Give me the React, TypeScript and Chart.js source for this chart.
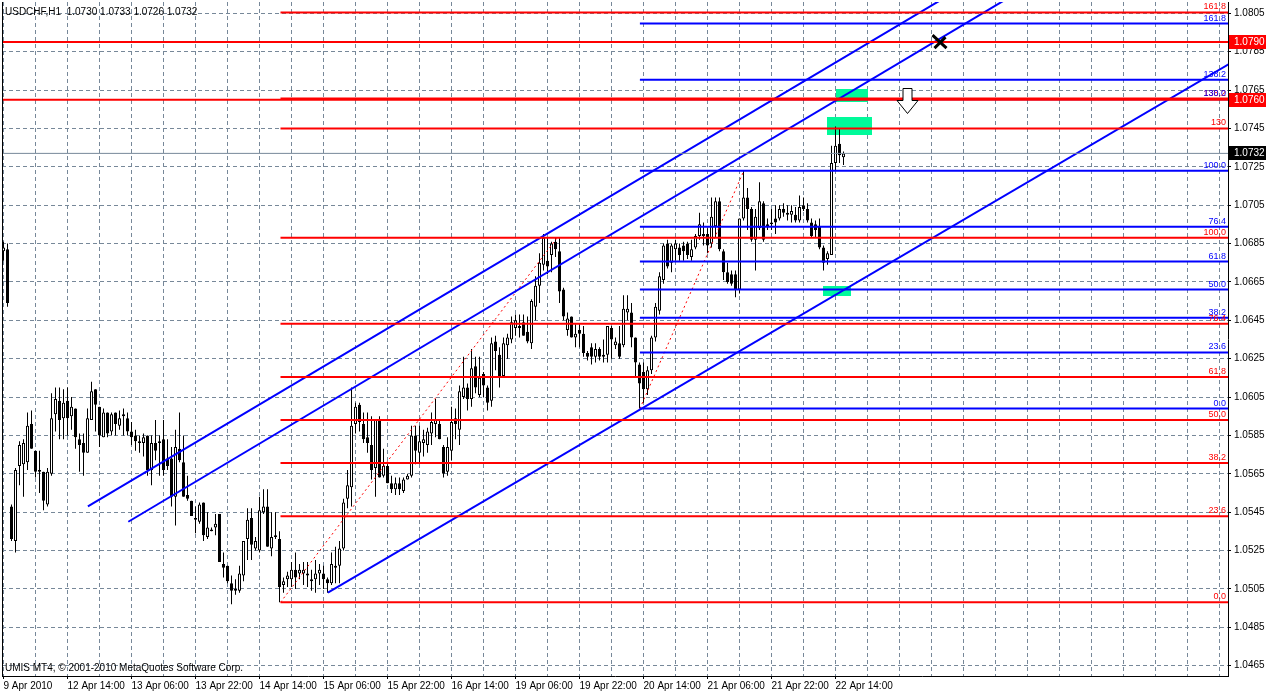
import React, { useEffect, useRef } from 'react';
import { Chart, registerables } from 'chart.js';

Chart.register(...registerables);

const FONT = '"Liberation Sans", Arial, sans-serif';
Chart.defaults.font.family = FONT;
Chart.defaults.font.size = 10;
Chart.defaults.color = '#000000';

// ---------- data: USDCHF H1 candles (bar index 0 = 9 Apr 2010 22:00) ----------
const opens = [
  1.0681,1.0682,1.0548,1.0530,1.0569,1.0570,1.0571,1.0591,1.0577,1.0567,
  1.0566,1.0549,1.0565,1.0596,1.0603,1.0594,1.0603,1.0595,1.0599,1.0583,
  1.0581,1.0576,1.0593,1.0609,1.0600,1.0584,1.0597,1.0587,1.0597,1.0590,
  1.0595,1.0594,1.0587,1.0585,1.0581,1.0581,1.0585,1.0567,1.0581,1.0581,
  1.0583,1.0573,1.0573,1.0553,1.0578,1.0571,1.0554,1.0551,1.0542,1.0540,
  1.0550,1.0532,1.0536,1.0537,1.0544,1.0518,1.0517,1.0508,1.0504,1.0504,
  1.0512,1.0531,1.0542,1.0526,1.0525,1.0545,1.0548,1.0526,1.0533,1.0531,
  1.0507,1.0510,1.0510,1.0515,1.0513,1.0513,1.0513,1.0510,1.0510,1.0513,
  1.0513,1.0510,1.0508,1.0517,1.0517,1.0526,1.0552,1.0558,1.0591,1.0601,
  1.0591,1.0584,1.0580,1.0568,1.0593,1.0564,1.0569,1.0560,1.0557,1.0560,
  1.0556,1.0562,1.0564,1.0585,1.0576,1.0581,1.0580,1.0586,1.0591,1.0591,
  1.0579,1.0566,1.0577,1.0594,1.0588,1.0605,1.0610,1.0604,1.0621,1.0606,
  1.0617,1.0610,1.0603,1.0634,1.0627,1.0616,1.0632,1.0635,1.0641,1.0641,
  1.0644,1.0639,1.0633,1.0652,1.0663,1.0674,1.0676,1.0679,1.0686,1.0681,
  1.0661,1.0640,1.0647,1.0636,1.0640,1.0638,1.0628,1.0631,1.0626,1.0630,
  1.0627,1.0627,1.0641,1.0632,1.0633,1.0632,1.0649,1.0649,1.0636,1.0622,
  1.0618,1.0609,1.0619,1.0636,1.0650,1.0666,1.0685,1.0675,1.0682,1.0683,
  1.0684,1.0685,1.0678,1.0683,1.0689,1.0689,1.0690,1.0685,1.0694,1.0707,
  1.0681,1.0670,1.0669,1.0669,1.0661,1.0698,1.0709,1.0703,1.0687,1.0693,
  1.0706,1.0694,1.0695,1.0698,1.0698,1.0703,1.0700,1.0700,1.0700,1.0697,
  1.0705,1.0703,1.0696,1.0695,1.0694,1.0683,1.0677,1.0679,1.0727,1.0737,
  1.0730,
];
const highs = [
  1.0686,1.0685,1.0549,1.0568,1.0582,1.0583,1.0597,1.0598,1.0577,1.0577,
  1.0566,1.0568,1.0607,1.0610,1.0610,1.0609,1.0610,1.0605,1.0599,1.0586,
  1.0586,1.0599,1.0613,1.0609,1.0600,1.0599,1.0597,1.0597,1.0597,1.0598,
  1.0599,1.0597,1.0592,1.0588,1.0585,1.0586,1.0585,1.0585,1.0593,1.0585,
  1.0593,1.0583,1.0579,1.0588,1.0597,1.0585,1.0564,1.0551,1.0548,1.0550,
  1.0550,1.0545,1.0537,1.0544,1.0544,1.0524,1.0517,1.0512,1.0510,1.0517,
  1.0530,1.0547,1.0547,1.0532,1.0553,1.0557,1.0557,1.0545,1.0545,1.0535,
  1.0511,1.0514,1.0519,1.0524,1.0518,1.0519,1.0519,1.0515,1.0520,1.0518,
  1.0517,1.0511,1.0524,1.0527,1.0530,1.0552,1.0567,1.0610,1.0602,1.0602,
  1.0597,1.0597,1.0595,1.0593,1.0595,1.0578,1.0570,1.0564,1.0563,1.0563,
  1.0563,1.0565,1.0590,1.0590,1.0590,1.0588,1.0589,1.0597,1.0604,1.0593,
  1.0580,1.0584,1.0600,1.0599,1.0611,1.0626,1.0612,1.0630,1.0626,1.0626,
  1.0618,1.0611,1.0636,1.0637,1.0631,1.0636,1.0638,1.0647,1.0648,1.0648,
  1.0648,1.0647,1.0656,1.0668,1.0680,1.0690,1.0688,1.0686,1.0688,1.0688,
  1.0662,1.0649,1.0647,1.0643,1.0643,1.0642,1.0629,1.0633,1.0633,1.0631,
  1.0635,1.0642,1.0642,1.0636,1.0642,1.0658,1.0658,1.0654,1.0636,1.0623,
  1.0623,1.0621,1.0637,1.0654,1.0670,1.0685,1.0687,1.0685,1.0687,1.0685,
  1.0686,1.0686,1.0687,1.0690,1.0701,1.0696,1.0693,1.0709,1.0709,1.0709,
  1.0682,1.0675,1.0671,1.0671,1.0698,1.0723,1.0714,1.0704,1.0703,1.0717,
  1.0707,1.0698,1.0703,1.0705,1.0705,1.0706,1.0705,1.0705,1.0704,1.0710,
  1.0709,1.0706,1.0698,1.0697,1.0698,1.0684,1.0681,1.0736,1.0746,1.0745,
  1.0733,
];
const lows = [
  1.0676,1.0652,1.0530,1.0524,1.0559,1.0553,1.0567,1.0578,1.0563,1.0555,
  1.0546,1.0548,1.0564,1.0587,1.0583,1.0583,1.0585,1.0588,1.0578,1.0566,
  1.0564,1.0576,1.0593,1.0587,1.0579,1.0584,1.0584,1.0585,1.0585,1.0588,
  1.0585,1.0585,1.0580,1.0577,1.0576,1.0574,1.0564,1.0559,1.0572,1.0564,
  1.0564,1.0567,1.0548,1.0538,1.0571,1.0553,1.0551,1.0543,1.0534,1.0539,
  1.0530,1.0531,1.0535,1.0533,1.0519,1.0511,1.0508,1.0497,1.0502,1.0503,
  1.0509,1.0520,1.0520,1.0525,1.0524,1.0544,1.0527,1.0522,1.0531,1.0498,
  1.0503,1.0506,1.0506,1.0505,1.0510,1.0507,1.0506,1.0504,1.0503,1.0507,
  1.0505,1.0503,1.0507,1.0508,1.0508,1.0525,1.0547,1.0548,1.0586,1.0587,
  1.0581,1.0576,1.0562,1.0553,1.0563,1.0563,1.0560,1.0555,1.0554,1.0554,
  1.0555,1.0562,1.0563,1.0570,1.0571,1.0574,1.0576,1.0580,1.0584,1.0583,
  1.0563,1.0564,1.0572,1.0583,1.0580,1.0604,1.0598,1.0600,1.0607,1.0605,
  1.0605,1.0598,1.0600,1.0619,1.0610,1.0615,1.0625,1.0633,1.0637,1.0636,
  1.0637,1.0633,1.0630,1.0645,1.0654,1.0671,1.0669,1.0670,1.0678,1.0654,
  1.0645,1.0637,1.0636,1.0631,1.0631,1.0626,1.0624,1.0622,1.0623,1.0624,
  1.0623,1.0623,1.0625,1.0630,1.0625,1.0631,1.0645,1.0631,1.0616,1.0599,
  1.0602,1.0606,1.0617,1.0634,1.0648,1.0664,1.0672,1.0670,1.0676,1.0676,
  1.0676,1.0677,1.0676,1.0682,1.0687,1.0684,1.0680,1.0683,1.0688,1.0681,
  1.0666,1.0664,1.0663,1.0657,1.0659,1.0697,1.0692,1.0686,1.0671,1.0692,
  1.0686,1.0692,1.0692,1.0690,1.0697,1.0699,1.0697,1.0696,1.0696,1.0696,
  1.0702,1.0696,1.0688,1.0688,1.0682,1.0671,1.0674,1.0679,1.0723,1.0727,
  1.0726,
];
const closes = [
  1.0683,1.0654,1.0531,1.0567,1.0580,1.0581,1.0590,1.0578,1.0566,1.0566,
  1.0551,1.0566,1.0594,1.0604,1.0593,1.0602,1.0594,1.0600,1.0584,1.0580,
  1.0576,1.0594,1.0608,1.0601,1.0585,1.0597,1.0586,1.0596,1.0591,1.0594,
  1.0596,1.0587,1.0584,1.0582,1.0582,1.0584,1.0567,1.0581,1.0577,1.0582,
  1.0567,1.0569,1.0553,1.0579,1.0572,1.0553,1.0552,1.0543,1.0541,1.0549,
  1.0533,1.0537,1.0535,1.0539,1.0519,1.0516,1.0509,1.0504,1.0505,1.0513,
  1.0530,1.0541,1.0528,1.0530,1.0546,1.0548,1.0527,1.0532,1.0532,1.0506,
  1.0509,1.0512,1.0515,1.0511,1.0515,1.0515,1.0512,1.0509,1.0513,1.0515,
  1.0510,1.0508,1.0518,1.0516,1.0526,1.0550,1.0559,1.0590,1.0600,1.0592,
  1.0583,1.0581,1.0567,1.0593,1.0563,1.0569,1.0560,1.0557,1.0560,1.0557,
  1.0562,1.0564,1.0585,1.0577,1.0582,1.0583,1.0587,1.0592,1.0593,1.0583,
  1.0565,1.0579,1.0592,1.0591,1.0608,1.0610,1.0604,1.0620,1.0610,1.0615,
  1.0611,1.0602,1.0633,1.0629,1.0616,1.0633,1.0636,1.0644,1.0645,1.0642,
  1.0637,1.0634,1.0655,1.0663,1.0675,1.0688,1.0673,1.0685,1.0682,1.0660,
  1.0647,1.0646,1.0636,1.0638,1.0638,1.0628,1.0626,1.0626,1.0630,1.0626,
  1.0626,1.0642,1.0635,1.0634,1.0626,1.0651,1.0651,1.0636,1.0623,1.0612,
  1.0609,1.0619,1.0636,1.0652,1.0668,1.0684,1.0673,1.0684,1.0685,1.0679,
  1.0681,1.0679,1.0682,1.0689,1.0695,1.0690,1.0684,1.0699,1.0707,1.0682,
  1.0670,1.0665,1.0664,1.0661,1.0698,1.0709,1.0703,1.0687,1.0699,1.0707,
  1.0687,1.0695,1.0696,1.0696,1.0703,1.0701,1.0701,1.0702,1.0697,1.0704,
  1.0703,1.0697,1.0689,1.0692,1.0683,1.0675,1.0680,1.0727,1.0736,1.0731,
  1.0732,
];

const xTickLabels = [
  '9 Apr 2010', '12 Apr 14:00', '13 Apr 06:00', '13 Apr 22:00', '14 Apr 14:00',
  '15 Apr 06:00', '15 Apr 22:00', '16 Apr 14:00', '19 Apr 06:00', '19 Apr 22:00',
  '20 Apr 14:00', '21 Apr 06:00', '21 Apr 22:00', '22 Apr 14:00',
];
const yTickValues = [
  1.0465, 1.0485, 1.0505, 1.0525, 1.0545, 1.0565, 1.0585, 1.0605, 1.0625,
  1.0645, 1.0665, 1.0685, 1.0705, 1.0725, 1.0745, 1.0765, 1.0785, 1.0805,
];
const Y_MIN = 1.04596;
const Y_MAX = 1.08109;
const X_MIN = -0.375;
const X_MAX = 306.125;

const fibLevels = [0, 23.6, 38.2, 50, 61.8, 76.4, 100, 130, 138.2, 161.8];
const redFibLabels = ['0.0', '23.6', '38.2', '50.0', '61.8', '76.4', '100.0', '130', '138.2', '161.8'];
const blueFibLabels = ['0.0', '23.6', '38.2', '50.0', '61.8', '76.4', '100.0', '130.0', '138.2', '161.8'];
const redFib = { startBar: 69.25, low: 1.0498, high: 1.0688 };
const blueFib = { startBar: 159.1, low: 1.0599, high: 1.0723 };

const channelUpper = [{ x: 21.1, y: 1.0548 }, { x: 236, y: 1.0814 }];
const channelMiddle = [{ x: 31.2, y: 1.0540 }, { x: 252, y: 1.0814 }];
const channelLower = [{ x: 81.1, y: 1.0503 }, { x: 310, y: 1.0783 }];
const fibTrendRed = [{ x: 69.25, y: 1.0498 }, { x: 138.4, y: 1.0688 }];
const fibTrendBlue = [{ x: 159.1, y: 1.0599 }, { x: 185.1, y: 1.0723 }];

const levelLines = [1.0790, 1.0760];
const currentPrice = 1.0732;
const greenZones = [
  { x0: 208, x1: 216, y0: 1.07586, y1: 1.07655 },
  { x0: 205.9, x1: 217, y0: 1.07416, y1: 1.07510 },
  { x0: 204.9, x1: 211.9, y0: 1.06578, y1: 1.06630 },
];
const arrowDown = { x: 225.9, y: 1.0766 };
const stopMark = { x: 234, y: 1.0790 };

const titleText = 'USDCHF,H1  1.0730 1.0733 1.0726 1.0732';
const copyrightText = 'UMIS MT4, \u00A9 2001-2010 MetaQuotes Software Corp.';

const RED = '#ff0000';
const BLUE = '#0000ff';
const GRID = '#778899';

function fibPrice(f: { low: number; high: number }, lvl: number) {
  return f.low + ((f.high - f.low) * lvl) / 100;
}

function lineDs(data: any[], color: string, width: number, dash: number[] = []) {
  return {
    type: 'line',
    data,
    borderColor: color,
    borderWidth: width,
    borderDash: dash,
    pointRadius: 0,
    pointHoverRadius: 0,
    fill: false,
    tension: 0,
    clip: 0,
    order: 1,
  };
}

const extrasPlugin = {
  id: 'mtExtras',
  beforeDatasetsDraw(chart: any) {
    const { ctx, chartArea: a } = chart;
    const x = chart.scales.x;
    const y = chart.scales.y;
    ctx.save();
    ctx.beginPath();
    ctx.rect(a.left, a.top, a.right - a.left, a.bottom - a.top);
    ctx.clip();
    ctx.fillStyle = '#00fa9a';
    for (const z of greenZones) {
      const px0 = Math.round(x.getPixelForValue(z.x0));
      const px1 = Math.round(x.getPixelForValue(z.x1));
      const py0 = Math.round(y.getPixelForValue(z.y1));
      const py1 = Math.round(y.getPixelForValue(z.y0));
      ctx.fillRect(px0, py0, px1 - px0, py1 - py0);
    }
    ctx.restore();
  },
  afterDatasetsDraw(chart: any) {
    const { ctx, chartArea: a } = chart;
    const x = chart.scales.x;
    const y = chart.scales.y;
    ctx.save();
    // fibo level labels
    ctx.font = '9px ' + FONT;
    ctx.textAlign = 'right';
    ctx.textBaseline = 'bottom';
    const drawLabels = (f: any, labels: string[], color: string) => {
      ctx.fillStyle = color;
      fibLevels.forEach((lvl, i) => {
        const py = y.getPixelForValue(fibPrice(f, lvl));
        ctx.fillText(labels[i], a.right - 2, py - 1);
      });
    };
    drawLabels(redFib, redFibLabels, RED);
    drawLabels(blueFib, blueFibLabels, BLUE);

    // hollow down arrow
    const cx = Math.round(x.getPixelForValue(arrowDown.x)) + 0.5;
    const top = Math.round(y.getPixelForValue(arrowDown.y)) + 0.5;
    ctx.beginPath();
    ctx.moveTo(cx - 4.5, top);
    ctx.lineTo(cx + 4.5, top);
    ctx.lineTo(cx + 4.5, top + 12);
    ctx.lineTo(cx + 10.5, top + 12);
    ctx.lineTo(cx, top + 25);
    ctx.lineTo(cx - 10.5, top + 12);
    ctx.lineTo(cx - 4.5, top + 12);
    ctx.closePath();
    ctx.fillStyle = '#ffffff';
    ctx.fill();
    ctx.strokeStyle = '#000000';
    ctx.lineWidth = 1;
    ctx.stroke();

    // stop mark (thick X)
    const sx = x.getPixelForValue(stopMark.x);
    const sy = y.getPixelForValue(stopMark.y);
    ctx.strokeStyle = '#000000';
    ctx.lineWidth = 3;
    ctx.lineCap = 'butt';
    ctx.beginPath();
    ctx.moveTo(sx - 7, sy - 7);
    ctx.lineTo(sx + 7, sy + 6);
    ctx.moveTo(sx - 5, sy + 6);
    ctx.lineTo(sx + 6, sy - 5);
    ctx.stroke();

    // left frame line
    ctx.lineWidth = 1;
    ctx.beginPath();
    ctx.moveTo(a.left + 0.5, a.top);
    ctx.lineTo(a.left + 0.5, a.bottom);
    ctx.stroke();

    // texts
    ctx.font = '10px ' + FONT;
    ctx.textAlign = 'left';
    ctx.textBaseline = 'alphabetic';
    ctx.fillStyle = '#000000';
    ctx.fillText(titleText, a.left + 3, 15);
    ctx.fillText(copyrightText, a.left + 3, a.bottom - 5);
    ctx.restore();
  },
  afterDraw(chart: any) {
    const { ctx, chartArea: a } = chart;
    const y = chart.scales.y;
    ctx.save();
    ctx.font = '10px ' + FONT;
    ctx.textAlign = 'left';
    ctx.textBaseline = 'middle';
    const box = (price: number, bg: string) => {
      const py = Math.round(y.getPixelForValue(price));
      ctx.fillStyle = bg;
      ctx.fillRect(a.right + 1, py - 7, chart.width - a.right - 1, 14);
      ctx.fillStyle = '#ffffff';
      ctx.fillText(price.toFixed(4), a.right + 6, py + 0.5);
    };
    levelLines.forEach((p) => box(p, RED));
    box(currentPrice, '#000000');
    ctx.restore();
  },
};

export default function App() {
  const canvasRef = useRef<HTMLCanvasElement | null>(null);

  useEffect(() => {
    document.body.style.margin = '0';
    const canvas = canvasRef.current;
    if (!canvas) return;

    const wickData = opens.map((_, i) => ({ x: i, y: [lows[i], highs[i]] }));
    const bodyData = opens.map((o, i) => ({ x: i, y: [o, closes[i]] }));
    const bodyColors = opens.map((o, i) => (closes[i] >= o ? '#ffffff' : '#000000'));

    const fibDatasets: any[] = [];
    fibLevels.forEach((lvl) => {
      const p = fibPrice(redFib, lvl);
      fibDatasets.push(lineDs([{ x: redFib.startBar, y: p }, { x: X_MAX + 5, y: p }], RED, 2));
    });
    fibLevels.forEach((lvl) => {
      const p = fibPrice(blueFib, lvl);
      fibDatasets.push(lineDs([{ x: blueFib.startBar, y: p }, { x: X_MAX + 5, y: p }], BLUE, 2));
    });

    const chart = new Chart(canvas, {
      type: 'bar',
      data: {
        datasets: [
          {
            type: 'bar',
            data: wickData,
            backgroundColor: '#000000',
            borderWidth: 0,
            barThickness: 1,
            grouped: false,
            inflateAmount: 0,
            order: 3,
          },
          {
            type: 'bar',
            data: bodyData,
            backgroundColor: bodyColors,
            borderColor: '#000000',
            borderWidth: 1,
            borderSkipped: false,
            barThickness: 3,
            minBarLength: 1,
            grouped: false,
            inflateAmount: 0,
            order: 2,
          },
          lineDs([{ x: X_MIN - 5, y: currentPrice }, { x: X_MAX + 5, y: currentPrice }], GRID, 1),
          ...levelLines.map((p) => lineDs([{ x: X_MIN - 5, y: p }, { x: X_MAX + 5, y: p }], RED, 2)),
          ...fibDatasets,
          lineDs(channelUpper, BLUE, 2),
          lineDs(channelMiddle, BLUE, 2),
          lineDs(channelLower, BLUE, 2),
          lineDs(fibTrendRed, RED, 1, [2, 3]),
          lineDs(fibTrendBlue, RED, 1, [2, 3]),
        ] as any,
      },
      options: {
        responsive: false,
        animation: false,
        events: [],
        layout: { padding: { left: 2, top: 2, right: 0, bottom: 0 } },
        plugins: { legend: { display: false }, tooltip: { enabled: false } },
        scales: {
          x: {
            type: 'linear',
            min: X_MIN,
            max: X_MAX,
            offset: false,
            afterBuildTicks: (s: any) => {
              s.ticks = Array.from({ length: 39 }, (_, i) => ({ value: i * 8 }));
            },
            afterFit: (s: any) => {
              s.height = 17;
              s.paddingLeft = 0;
              s.paddingRight = 0;
              s.paddingTop = 0;
              s.paddingBottom = 0;
            },
            ticks: {
              autoSkip: false,
              maxRotation: 0,
              minRotation: 0,
              align: 'start',
              padding: 1,
              color: '#000000',
              font: { size: 10, family: FONT },
              callback: (v: any) => {
                const n = Number(v);
                return n % 16 === 0 && n / 16 < xTickLabels.length ? xTickLabels[n / 16] : '';
              },
            },
            grid: {
              color: GRID,
              lineWidth: 1,
              offset: false,
              drawTicks: true,
              tickLength: 3,
              tickColor: (c: any) =>
                c.tick && c.tick.value % 16 === 0 && c.tick.value / 16 < xTickLabels.length
                  ? '#000000'
                  : 'rgba(0,0,0,0)',
            },
            border: { display: true, color: '#000000', width: 1, dash: [4, 3] },
          },
          y: {
            type: 'linear',
            position: 'right',
            min: Y_MIN,
            max: Y_MAX,
            afterBuildTicks: (s: any) => {
              s.ticks = yTickValues.map((v) => ({ value: v }));
            },
            afterFit: (s: any) => {
              s.width = 38;
              s.paddingLeft = 0;
              s.paddingRight = 0;
              s.paddingTop = 0;
              s.paddingBottom = 0;
            },
            ticks: {
              autoSkip: false,
              padding: 3,
              color: '#000000',
              font: { size: 10, family: FONT },
              callback: (v: any) => Number(v).toFixed(4),
            },
            grid: {
              color: GRID,
              lineWidth: 1,
              drawTicks: true,
              tickLength: 3,
              tickColor: '#000000',
            },
            border: { display: true, color: '#000000', width: 1, dash: [4, 3] },
          },
        },
      } as any,
      plugins: [extrasPlugin],
    });

    return () => chart.destroy();
  }, []);

  return (
    <div style={{ width: 1266, height: 693, background: '#ffffff' }}>
      <canvas ref={canvasRef} width={1266} height={693} style={{ display: 'block' }} />
    </div>
  );
}
